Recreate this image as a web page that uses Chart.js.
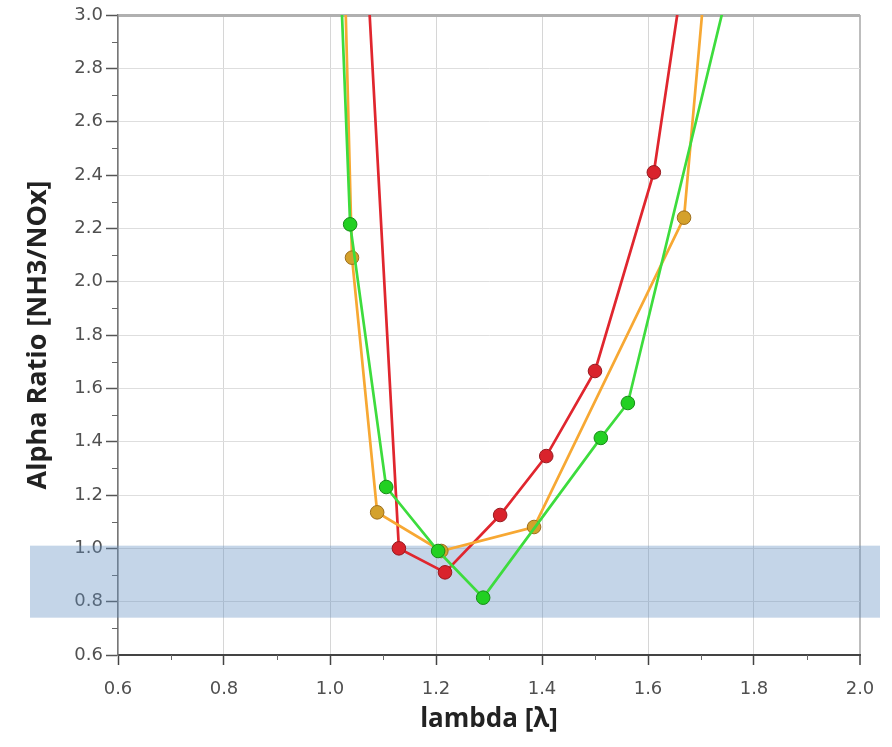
<!DOCTYPE html>
<html>
<head>
<meta charset="utf-8">
<script src="https://cdn.jsdelivr.net/npm/chart.js@4.4.1/dist/chart.umd.min.js"></script>
<style>
  body { margin: 0; background: #fff; }
  canvas { display: block; }
</style>
</head>
<body>
<canvas id="alphaChart" width="892" height="747"></canvas>
<script>

// Lambda values and alpha ratios (first/last points sit above the plot top).
var redX    = [1.05, 1.13, 1.217, 1.321, 1.408, 1.500, 1.611, 1.70];
var redY    = [3.9, 1.0, 0.91, 1.125, 1.346, 1.665, 2.41, 3.6];
var orangeX = [1.022, 1.0415, 1.089, 1.21, 1.385, 1.668, 1.75];
var orangeY = [3.6, 2.09, 1.135, 0.99, 1.08, 2.24, 4.08];
var greenX  = [1.015, 1.038, 1.106, 1.204, 1.289, 1.511, 1.562, 1.80];
var greenY  = [3.39, 2.215, 1.23, 0.99, 0.815, 1.414, 1.545, 3.5];

// Target band for the alpha ratio.
var bandLow = 0.74;
var bandHigh = 1.01;

// Axis ranges.
var xMin = 0.6, xMax = 2.0, xStep = 0.2;
var yMin = 0.6, yMax = 3.0, yStep = 0.2;

var titleFont = "'Open Sans', 'DejaVu Sans', sans-serif";
var tickFont = "'DejaVu Sans', sans-serif";

// Turn two arrays into {x,y} points.
function pts(xs, ys) {
	var out = [];
	for (let i = 0; i < xs.length; i++) {
		out.push({ x: xs[i], y: ys[i] });
	}
	return out;
}

function series(xs, ys, line, fill, edge) {
	return {
		data: pts(xs, ys),
		showLine: true,
		borderColor: line,
		borderWidth: 2.7,
		pointRadius: 6.8,
		pointBackgroundColor: fill,
		pointBorderColor: edge,
		pointBorderWidth: 1,
		clip: 0
	};
}

// Shaded band and the small minor ticks, drawn before the lines.
const bandPlugin = {
	id: 'band',
	beforeDatasetsDraw(chart) {
		const c = chart.ctx, a = chart.chartArea;
		const xs = chart.scales.x, ys = chart.scales.y;

		// minor ticks
		c.save();
		c.strokeStyle = '#666';
		c.lineWidth = 1;
		c.beginPath();
		for (let v = yMin + yStep / 2; v < yMax; v += yStep) {
			let p = Math.round(ys.getPixelForValue(v)) + 0.5;
			c.moveTo(a.left - 6, p);
			c.lineTo(a.left, p);
		}
		for (let v = xMin + xStep / 2; v < xMax; v += xStep) {
			let p = Math.round(xs.getPixelForValue(v)) + 0.5;
			c.moveTo(p, a.bottom);
			c.lineTo(p, a.bottom + 5);
		}
		c.stroke();

		// band
		const top = ys.getPixelForValue(bandHigh);
		const bot = ys.getPixelForValue(bandLow);
		c.fillStyle = 'rgba(100,145,195,0.38)';
		c.fillRect(30, top, a.right + 20 - 30, bot - top);
		c.restore();
	}
};

function isVal(ctx, v) {
	return ctx.tick && Math.abs(ctx.tick.value - v) < 1e-6;
}

const chart = new Chart(document.getElementById('alphaChart').getContext('2d'), {
	type: 'scatter',
	data: {
		datasets: [
			series(greenX, greenY, '#3ddc3d', '#22d022', '#178a17'),
			series(orangeX, orangeY, '#f7a833', '#d4a12c', '#9c6e1c'),
			series(redX, redY, '#e0262e', '#d9232c', '#951a20')
		]
	},
	options: {
		responsive: false,
		animation: false,
		layout: { padding: { top: 15, right: 32, left: 0, bottom: 0 } },
		plugins: {
			legend: { display: false },
			tooltip: { enabled: false }
		},
		scales: {
			x: {
				type: 'linear',
				min: xMin,
				max: xMax,
				afterFit(scale) { scale.height = 92; },
				ticks: {
					stepSize: xStep,
					padding: 14,
					color: '#505050',
					font: { family: tickFont, size: 18 },
					callback: v => Number(v).toFixed(1)
				},
				grid: {
					color: ctx => isVal(ctx, xMax) ? '#bdbdbd' : '#d6d6d6',
					lineWidth: ctx => isVal(ctx, xMax) ? 2 : 1,
					tickLength: 10,
					tickColor: '#444',
					tickWidth: 1.5
				},
				border: { color: '#444', width: 2 },
				title: {
					display: true,
					text: 'lambda [λ]',
					color: '#222',
					font: { family: titleFont, size: 26, weight: 'bold' },
					padding: { top: 0, bottom: 12 }
				}
			},
			y: {
				min: yMin,
				max: yMax,
				afterFit(scale) { scale.width = 118; },
				ticks: {
					stepSize: yStep,
					padding: 3,
					color: '#505050',
					font: { family: tickFont, size: 18 },
					callback: v => Number(v).toFixed(1)
				},
				grid: {
					color: ctx => isVal(ctx, yMax) ? '#b0b0b0' : '#dedede',
					lineWidth: ctx => isVal(ctx, yMax) ? 3 : 1,
					tickLength: 12,
					tickColor: '#555',
					tickWidth: 1.5
				},
				border: { color: '#777', width: 1.5 },
				title: {
					display: true,
					text: 'Alpha Ratio [NH3/NOx]',
					color: '#222',
					font: { family: titleFont, size: 27, weight: 'bold' },
					padding: { top: 22, bottom: 0 }
				}
			}
		}
	},
	plugins: [bandPlugin]
});

</script>
</body>
</html>
